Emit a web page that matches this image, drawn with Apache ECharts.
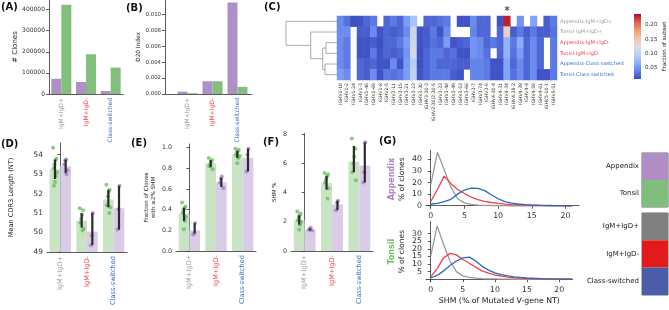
<!DOCTYPE html>
<html><head><meta charset="utf-8">
<script src="https://cdn.jsdelivr.net/npm/echarts@6/dist/echarts.min.js"></script>
<style>html,body{margin:0;padding:0;background:#fff}#c{width:669px;height:310px}</style>
</head><body><div id="c"></div>
<script>
const FONT = 'DejaVu Sans';
// ---------- shared ----------
const groups = ['IgM+IgD+', 'IgM+IgD-', 'Class-switched'];
const groupTextColors = ['#9a9a9a', '#ee3f4f', '#3a6fc4'];
const PURPLE = '#ae90c6', GREEN = '#82bf7d';
const PURPLE_L = '#dacbe6', GREEN_L = '#c8e4c5';
const PURPLE_P = '#a57fca', GREEN_P = '#6cbf63';
// ---------- (A) # clones ----------
const clonesAppendix = [72000, 57000, 14000];
const clonesTonsil = [423000, 188000, 125000];
const clonesTicks = [0, 100000, 200000, 300000, 400000];
// ---------- (B) D20 index ----------
const d20Appendix = [0.0003, 0.0016, 0.0115];
const d20Tonsil = [0.0001, 0.0016, 0.0009];
const d20Ticks = [0, 0.002, 0.004, 0.006, 0.008, 0.010];
// ---------- (C) heatmap ----------
const ighvGenes = ['IGHV1-18','IGHV1-2','IGHV1-24','IGHV1-3','IGHV1-46','IGHV1-69','IGHV1-8','IGHV2-5','IGHV3-11','IGHV3-15','IGHV3-21','IGHV3-23','IGHV3-30','IGHV3-30-3','IGHV3-30|3-30-5','IGHV3-33','IGHV3-48','IGHV3-49','IGHV3-53','IGHV3-66','IGHV3-7','IGHV3-74','IGHV3-9','IGHV4-30-4','IGHV4-31','IGHV4-34','IGHV4-38-2','IGHV4-39','IGHV4-4','IGHV4-59','IGHV4-61','IGHV5-10-1','IGHV5-51'];
const subsets = ['Appendix-IgM+IgD+','Tonsil-IgM+IgD+','Appendix-IgM+IgD-','Tonsil-IgM+IgD-','Appendix-Class-switched','Tonsil-Class-switched'];
const subsetTextColors = ['#9a9a9a','#9a9a9a','#ee3f4f','#ee3f4f','#3a6fc4','#3a6fc4'];
const fracAppendixIgMIgDpos = [0.045,0.030,0.013,0.015,0.025,0.035,null,0.025,0.035,0.025,0.055,0.085,null,0.025,0.025,0.030,0.035,null,0.015,0.015,0.045,0.025,0.025,null,0.015,0.230,null,0.050,null,0.060,null,0.020,0.035];
const fracTonsilIgMIgDpos = [0.045,0.045,null,0.020,0.020,0.045,0.015,0.025,0.020,0.025,0.045,0.110,0.015,0.020,0.035,0.015,0.045,null,null,null,0.040,0.025,0.025,null,0.025,0.140,0.020,0.035,0.020,0.035,0.020,0.020,0.030];
const fracAppendixIgMIgDneg = [0.045,0.035,null,0.015,0.015,0.020,0.013,0.025,0.025,0.035,0.055,0.110,0.015,0.020,0.030,0.025,0.055,0.015,0.020,0.025,0.050,0.045,0.025,0.035,0.025,0.070,0.035,0.065,0.025,0.045,0.025,null,0.035];
const fracTonsilIgMIgDneg = [0.045,0.035,null,0.015,0.015,0.035,0.015,0.025,0.020,0.025,0.050,0.115,0.013,0.025,0.035,0.035,0.025,0.030,0.015,0.015,0.050,0.045,0.030,null,0.025,0.070,0.030,0.055,0.025,0.045,0.025,null,0.035];
const fracAppendixClassSw = [0.045,0.035,null,0.025,0.020,0.025,0.015,0.015,0.045,0.015,0.055,0.095,0.013,0.025,0.035,0.025,0.025,0.025,0.020,0.020,0.040,0.040,0.035,0.015,0.015,0.060,0.025,0.045,0.025,0.045,0.025,null,0.035];
const fracTonsilClassSw = [0.055,0.045,null,0.025,0.020,0.045,0.015,0.035,0.030,0.035,0.055,0.100,0.015,0.025,0.035,0.035,0.035,0.020,0.015,null,0.040,0.040,0.035,0.015,0.015,0.060,0.030,0.045,0.025,0.045,0.015,0.015,0.035];
const heatRows = [fracAppendixIgMIgDpos, fracTonsilIgMIgDpos, fracAppendixIgMIgDneg, fracTonsilIgMIgDneg, fracAppendixClassSw, fracTonsilClassSw];
const heatMin = 0.0106, heatMax = 0.238;
const colorbarTicks = [0.05, 0.10, 0.15, 0.20];
const starGene = 'IGHV4-34', starSubset = 'Appendix-IgM+IgD+';
// dendrogram linkage: child positions (row units), merge height, child heights
const linkChildPos = [[2, 3], [4, 5], [2.5, 4.5], [1, 3.5], [0, 2.25]];
const linkHeight = [0.216, 0.235, 0.28, 0.516, 1.0];
const linkChildHeight = [[0, 0], [0, 0], [0.216, 0.235], [0, 0.28], [0, 0.516]];
// ---------- (D) CDR3 length ----------
const cdr3TonsilMean = [53.25, 50.6, 51.7];
const cdr3AppendixMean = [53.4, 50.05, 51.25];
const cdr3TonsilPts = [[54.35,53.8,53.7,53.5,53.3,53.1,52.9,52.6,52.4],[51.25,51.15,50.9,50.7,50.5,50.2,50.1],[52.45,52.2,52.1,51.85,51.4,51.3,51.0]];
const cdr3AppendixPts = [[53.75,53.7,53.5,53.2,53.0],[51.0,49.85,49.35],[52.4,51.2,50.15]];
const cdr3TonsilCI = [[52.75,53.75],[50.25,51.0],[51.3,52.2]];
const cdr3AppendixCI = [[53.05,53.75],[49.35,51.0],[50.15,52.4]];
// ---------- (E) fraction with >=2% SHM ----------
const fracTonsilMean = [0.36, 0.85, 0.935];
const fracAppendixMean = [0.20, 0.665, 0.90];
const fracTonsilPts = [[0.47,0.43,0.41,0.40,0.37,0.33,0.29,0.21],[0.90,0.88,0.86,0.84,0.82,0.79],[0.99,0.98,0.96,0.95,0.93,0.92,0.90,0.85]];
const fracAppendixPts = [[0.27,0.17,0.16],[0.72,0.70,0.66,0.61],[0.99,0.93,0.77]];
const fracTonsilCI = [[0.29,0.42],[0.81,0.88],[0.90,0.97]];
const fracAppendixCI = [[0.17,0.27],[0.62,0.71],[0.77,0.99]];
// ---------- (F) SHM % ----------
const shmTonsilMean = [2.1, 4.65, 6.12];
const shmAppendixMean = [1.45, 3.2, 5.85];
const shmTonsilPts = [[2.7,2.55,2.45,2.3,2.1,2.0,1.8,1.45],[5.35,5.25,5.1,4.9,4.7,4.3,3.6],[7.7,7.0,6.45,6.0,5.4,4.85]];
const shmAppendixPts = [[1.6,1.5,1.45,1.4],[3.45,3.3,2.8],[7.45,5.4,4.7]];
const shmTonsilCI = [[1.8,2.45],[4.2,5.15],[5.4,7.2]];
const shmAppendixCI = [[1.4,1.55],[2.8,3.45],[4.7,7.45]];
// ---------- (G) SHM distributions ----------
const shmBinsAppendix = [0,1,2,3,4,5,6,7,8,9,10,11,12,13,14,15,16,17,18,19,20,21];
const appIgMIgDpos = [18,46,31,16,6,2.5,1.2,0.6,0.3,0.2,0.1,0.1,0,0,0,0,0,0,0,0,0,0];
const appIgMIgDneg = [3.5,14,25.5,19,14,10.5,7.5,5.2,3.8,2.8,2,1.4,1,0.7,0.5,0.35,0.25,0.15,0.1,0.05,0,0];
const appClassSw = [1.5,2,3.5,5.5,10,13.5,15.2,15,13,9.5,6,3.5,2.2,1.5,1,0.7,0.45,0.3,0.2,0.15,0.1,0.05];
const shmBinsTonsil = [0,1,2,3,4,5,6,7,8,9,10,11,12,13,14,15,16,17,18,19,20,21,22];
const tonIgMIgDpos = [15,35,23,12,5,2.2,1.2,0.7,0.4,0.3,0.2,0.1,0.1,0,0,0,0,0,0,0,0,0,0];
const tonIgMIgDneg = [1.5,7,14,17,16,13,10.5,8,5.5,4,2.8,2,1.4,1,0.7,0.5,0.35,0.25,0.15,0.1,0.05,0.02,0];
const tonClassSw = [1,2.5,5.5,9,12,14,14.5,12,8.5,6,4.2,3,2.2,1.6,1.2,0.9,0.65,0.45,0.3,0.2,0.15,0.1,0.05];
const shmXTicks = [0, 5, 10, 15, 20];
const appYTicks = [0, 10, 20, 30, 40];
const tonYTicks = [0, 5, 10, 15, 20, 25, 30, 35];
const lineColors = ['#9a9a9a', '#f0434c', '#2d68bf'];
// ---------- legend ----------
const legendTissues = ['Appendix', 'Tonsil'];
const legendTissueColors = ['#b18dc6', '#80bf7b'];
const legendSubsets = ['IgM+IgD+', 'IgM+IgD-', 'Class-switched'];
const legendSubsetColors = ['#808080', '#e31a1c', '#4a5dab'];

const coolwarm = ['#3b4cc0','#6282ea','#8db0fe','#b8d0f9','#dddddd','#f5c4ad','#f49a7b','#de604d','#b40426'];
const AX = '#333';
const jit = k => ((((k * 7) % 9) - 4) * 0.018);

function catAxis(gi, fs, extra) {
  return Object.assign({
    type: 'category', gridIndex: gi, data: groups,
    axisLine: { lineStyle: { color: AX, width: 0.8 } },
    axisTick: { alignWithLabel: true, length: 3, lineStyle: { color: AX, width: 0.8 } },
    axisLabel: { rotate: 90, fontSize: fs, margin: 4, fontFamily: FONT, color: (v, i) => groupTextColors[groups.indexOf(v)] }
  }, extra || {});
}
function valAxis(gi, min, max, ticks, fs, fmt, extra) {
  return Object.assign({
    type: 'value', gridIndex: gi, min: min, max: max,
    axisLine: { show: true, lineStyle: { color: AX, width: 0.8 } },
    axisTick: { show: true, length: 3, customValues: ticks, lineStyle: { color: AX, width: 0.8 } },
    axisLabel: { fontSize: fs, margin: 4, fontFamily: FONT, color: '#333', customValues: ticks, formatter: fmt || (v => String(v)) },
    splitLine: { show: false }
  }, extra || {});
}
function hidVal(gi, min, max, extra) {
  return Object.assign({ type: 'value', gridIndex: gi, min: min, max: max, show: false, splitLine: { show: false } }, extra || {});
}
const nameStyle = (fs) => ({ fontSize: fs, color: '#222', fontFamily: FONT });

const grids = [
  { left: 49, top: 0, width: 74, height: 94 },        //0 A
  { left: 165, top: 0, width: 87, height: 94 },       //1 B frame
  { left: 175, top: 0, width: 75, height: 94 },       //2 B bars
  { left: 337, top: 16, width: 220, height: 64 },     //3 C heat
  { left: 284, top: 16, width: 53, height: 64 },      //4 C dendro
  { left: 634, top: 14, width: 7, height: 65 },       //5 colorbar
  { left: 47, top: 143, width: 80, height: 109 },     //6 D
  { left: 176, top: 144, width: 80, height: 107 },    //7 E
  { left: 291, top: 133.5, width: 82, height: 117.5 },//8 F
  { left: 426, top: 150, width: 153, height: 58.3 },  //9 G top
  { left: 426, top: 221.7, width: 146.7, height: 60 },//10 G bottom
  { left: 642, top: 153, width: 26, height: 54, show: true, borderColor: '#444', borderWidth: 0.8, backgroundColor: 'transparent' }, //11
  { left: 642, top: 213, width: 26, height: 82, show: true, borderColor: '#444', borderWidth: 0.8, backgroundColor: 'transparent' }  //12
];

const xAxes = [
  catAxis(0, 6),                                                     //0
  hidVal(1, 0, 1, { show: true, axisLabel: { show: false }, axisTick: { show: false }, axisLine: { show: true, lineStyle: { color: AX, width: 0.8 } } }), //1
  catAxis(2, 6, { axisLine: { show: false } }),                      //2
  { type: 'category', gridIndex: 3, data: ighvGenes, axisLine: { show: false },
    axisTick: { alignWithLabel: true, length: 2, lineStyle: { color: AX, width: 0.6 } },
    axisLabel: { rotate: 90, fontSize: 4.6, margin: 3, interval: 0, color: '#333', fontFamily: FONT } }, //3
  hidVal(4, 0, 1.04, { inverse: true }),                             //4
  hidVal(5, 0, 1),                                                   //5
  catAxis(6, 6.6),                                                   //6
  hidVal(6, -0.5, 2.5),                                              //7
  catAxis(7, 6.6),                                                   //8
  hidVal(7, -0.5, 2.5),                                              //9
  catAxis(8, 6.6),                                                   //10
  hidVal(8, -0.5, 2.5),                                              //11
  valAxis(9, -0.7, 22, shmXTicks, 7.8),                              //12
  valAxis(10, -0.73, 22.1, shmXTicks, 7.8, null, { name: 'SHM (% of Mutated V-gene NT)', nameLocation: 'middle', nameGap: 15, nameTextStyle: nameStyle(7.8) }), //13
  hidVal(11, 0, 1),                                                  //14
  hidVal(12, 0, 1)                                                   //15
];

const yAxes = [
  valAxis(0, 0, 445000, clonesTicks, 6, null, { name: '# Clones', nameLocation: 'middle', nameGap: 25, nameTextStyle: nameStyle(7) }), //0
  valAxis(1, 0, 0.0118, d20Ticks, 5.4, v => v.toFixed(3), { name: 'D20 Index', nameLocation: 'middle', nameGap: 13, nameTextStyle: nameStyle(5.8) }), //1
  hidVal(2, 0, 0.0118),                                              //2
  { type: 'category', gridIndex: 3, data: subsets, inverse: true, position: 'right', axisLine: { show: false },
    axisTick: { length: 2, lineStyle: { color: AX, width: 0.6 } },
    axisLabel: { fontSize: 5.1, margin: 3, fontFamily: FONT, color: (v, i) => subsetTextColors[subsets.indexOf(v)] } }, //3
  hidVal(4, -0.5, 5.5, { inverse: true }),                           //4
  valAxis(5, heatMin, heatMax, colorbarTicks, 5.6, v => v.toFixed(2), { position: 'right', axisLine: { show: false },
    name: 'Fraction of subset', nameLocation: 'middle', nameRotate: 90, nameGap: 19, nameTextStyle: nameStyle(5.6) }), //5
  valAxis(6, 49, 54.6, [49, 50, 51, 52, 53, 54], 7.4, null, { name: 'Mean CDR3 Length (NT)', nameLocation: 'middle', nameGap: 32, nameTextStyle: nameStyle(6.6) }), //6
  valAxis(7, 0, 1.035, [0, 0.2, 0.4, 0.6, 0.8, 1.0], 6.3, v => v.toFixed(1), { name: 'Fraction of Clones\nwith \u22652% SHM', nameLocation: 'middle', nameGap: 19, nameTextStyle: Object.assign(nameStyle(5.6), { lineHeight: 7 }) }), //7
  valAxis(8, 0, 8.05, [0, 2, 4, 6, 8], 6.3, null, { name: 'SHM %', nameLocation: 'middle', nameGap: 13, nameTextStyle: nameStyle(5.6) }), //8
  valAxis(9, -2.2, 48, appYTicks, 7.8, null, { name: '{a|Appendix}\n{b|% of clones}', nameLocation: 'middle', nameGap: 18,
    nameTextStyle: { rich: { a: { fontSize: 8, fontWeight: 'bold', color: '#a57fca', fontFamily: FONT, lineHeight: 11 }, b: { fontSize: 7.6, color: '#222', fontFamily: FONT, lineHeight: 11 } } } }), //9
  valAxis(10, -1.6, 37.8, tonYTicks, 7.8, null, { name: '{a|Tonsil}\n{b|% of clones}', nameLocation: 'middle', nameGap: 18,
    nameTextStyle: { rich: { a: { fontSize: 8, fontWeight: 'bold', color: '#6cbf63', fontFamily: FONT, lineHeight: 11 }, b: { fontSize: 7.6, color: '#222', fontFamily: FONT, lineHeight: 11 } } } }), //10
  { type: 'category', gridIndex: 11, data: legendTissues, inverse: true, axisLine: { show: false },
    axisTick: { length: 3, lineStyle: { color: AX, width: 0.8 } }, axisLabel: { fontSize: 7, margin: 3, color: '#222', fontFamily: FONT } }, //11
  { type: 'category', gridIndex: 12, data: legendSubsets, inverse: true, axisLine: { show: false },
    axisTick: { length: 3, lineStyle: { color: AX, width: 0.8 } }, axisLabel: { fontSize: 7, margin: 3, color: '#222', fontFamily: FONT } }  //12
];

const series = [];
function bars(xi, yi, data, color, gap) {
  series.push({ type: 'bar', xAxisIndex: xi, yAxisIndex: yi, data: data, barGap: '0%', barCategoryGap: gap, itemStyle: { color: color }, silent: true, z: 2 });
}
// A
bars(0, 0, clonesAppendix, PURPLE, '19%');
bars(0, 0, clonesTonsil, GREEN, '19%');
// B
bars(2, 2, d20Appendix, PURPLE, '20%');
bars(2, 2, d20Tonsil, GREEN, '20%');
// C heatmap
const heatData = [];
heatRows.forEach((row, r) => row.forEach((v, c) => { if (v !== null) heatData.push([c, r, v]); }));
const heatSeriesIndex = series.length;
series.push({ type: 'heatmap', xAxisIndex: 3, yAxisIndex: 3, data: heatData, silent: true });
// dendrogram
series.push({ type: 'custom', xAxisIndex: 4, yAxisIndex: 4, silent: true,
  data: linkHeight.map((h, i) => [h, linkChildPos[i][0], linkChildPos[i][1], linkChildHeight[i][0], linkChildHeight[i][1]]),
  encode: { x: 0, y: [1, 2] },
  renderItem: (params, api) => {
    const h = api.value(0), p1 = api.value(1), p2 = api.value(2), c1 = api.value(3), c2 = api.value(4);
    const pts = [api.coord([c1, p1]), api.coord([h, p1]), api.coord([h, p2]), api.coord([c2, p2])];
    return { type: 'polyline', shape: { points: pts }, style: { stroke: '#a0a0a0', lineWidth: 0.9, fill: null } };
  } });
// colorbar
series.push({ type: 'custom', xAxisIndex: 5, yAxisIndex: 5, silent: true, data: [[0, heatMin, heatMax]], encode: { x: 0, y: [1, 2] },
  renderItem: (params, api) => {
    const a = api.coord([0, heatMax]), b = api.coord([1, heatMin]);
    return { type: 'rect', shape: { x: a[0], y: a[1], width: b[0] - a[0], height: b[1] - a[1] },
      style: { fill: new echarts.graphic.LinearGradient(0, 1, 0, 0, coolwarm.map((c, i) => ({ offset: i / (coolwarm.length - 1), color: c }))) } };
  } });
// star
series.push({ type: 'scatter', xAxisIndex: 3, yAxisIndex: 3, data: [[starGene, starSubset]], symbolSize: 1, itemStyle: { color: 'transparent' }, silent: true,
  label: { show: true, formatter: '*', position: 'top', distance: 4, fontSize: 10, fontWeight: 'bold', color: '#222', fontFamily: FONT } });

function swarm(xc, xv, yi, tMean, aMean, tPts, aPts, tCI, aCI) {
  bars(xc, yi, tMean, GREEN_L, '20%');
  bars(xc, yi, aMean, PURPLE_L, '20%');
  const tp = [], ap = [];
  tPts.forEach((arr, g) => arr.forEach((v, k) => tp.push([g - 0.2 + jit(k), v])));
  aPts.forEach((arr, g) => arr.forEach((v, k) => ap.push([g + 0.2 + jit(k + 2), v])));
  series.push({ type: 'scatter', xAxisIndex: xv, yAxisIndex: yi, data: tp, symbolSize: 4, itemStyle: { color: GREEN_P }, silent: true, z: 4 });
  series.push({ type: 'scatter', xAxisIndex: xv, yAxisIndex: yi, data: ap, symbolSize: 4, itemStyle: { color: PURPLE_P }, silent: true, z: 4 });
  const err = [];
  tCI.forEach((ci, g) => err.push([g - 0.2, ci[0], ci[1]]));
  aCI.forEach((ci, g) => err.push([g + 0.2, ci[0], ci[1]]));
  series.push({ type: 'custom', xAxisIndex: xv, yAxisIndex: yi, data: err, encode: { x: 0, y: [1, 2] }, silent: true, z: 5,
    renderItem: (params, api) => {
      const p1 = api.coord([api.value(0), api.value(1)]), p2 = api.coord([api.value(0), api.value(2)]);
      return { type: 'line', shape: { x1: p1[0], y1: p1[1], x2: p2[0], y2: p2[1] }, style: { stroke: '#2b2b2b', lineWidth: 2.2 } };
    } });
}
swarm(6, 7, 6, cdr3TonsilMean, cdr3AppendixMean, cdr3TonsilPts, cdr3AppendixPts, cdr3TonsilCI, cdr3AppendixCI);
swarm(8, 9, 7, fracTonsilMean, fracAppendixMean, fracTonsilPts, fracAppendixPts, fracTonsilCI, fracAppendixCI);
swarm(10, 11, 8, shmTonsilMean, shmAppendixMean, shmTonsilPts, shmAppendixPts, shmTonsilCI, shmAppendixCI);

// G lines
[appIgMIgDpos, appIgMIgDneg, appClassSw].forEach((ys, i) => series.push({ type: 'line', xAxisIndex: 12, yAxisIndex: 9, showSymbol: false, silent: true,
  data: shmBinsAppendix.map((x, k) => [x, ys[k]]), lineStyle: { color: lineColors[i], width: 1.3 }, z: 3 }));
[tonIgMIgDpos, tonIgMIgDneg, tonClassSw].forEach((ys, i) => series.push({ type: 'line', xAxisIndex: 13, yAxisIndex: 10, showSymbol: false, silent: true,
  data: shmBinsTonsil.map((x, k) => [x, ys[k]]), lineStyle: { color: lineColors[i], width: 1.3 }, z: 3 }));

// legend blocks
series.push({ type: 'bar', xAxisIndex: 14, yAxisIndex: 11, barWidth: '100%', silent: true,
  data: legendTissues.map((t, i) => ({ value: 1, itemStyle: { color: legendTissueColors[i] } })) });
series.push({ type: 'bar', xAxisIndex: 15, yAxisIndex: 12, barWidth: '100%', silent: true,
  data: legendSubsets.map((t, i) => ({ value: 1, itemStyle: { color: legendSubsetColors[i] } })) });

const panelLabels = [['(A)', 1, 2], ['(B)', 126, 3], ['(C)', 264, 2], ['(D)', 1, 139], ['(E)', 131, 138], ['(F)', 263, 137], ['(G)', 379, 136]];

const option = {
  animation: false,
  backgroundColor: '#fff',
  textStyle: { fontFamily: FONT },
  grid: grids,
  xAxis: xAxes,
  yAxis: yAxes,
  visualMap: { type: 'continuous', show: false, min: heatMin, max: heatMax, seriesIndex: heatSeriesIndex, dimension: 2, inRange: { color: coolwarm } },
  series: series,
  graphic: panelLabels.map(p => ({ type: 'text', left: p[1], top: p[2], silent: true,
    style: { text: p[0], fontSize: 10, fontWeight: 'bold', fill: '#111', fontFamily: FONT } }))
};
const chart = echarts.init(document.getElementById('c'), null, { renderer: 'canvas', width: 669, height: 310 });
chart.setOption(option);
</script>
</body></html>
